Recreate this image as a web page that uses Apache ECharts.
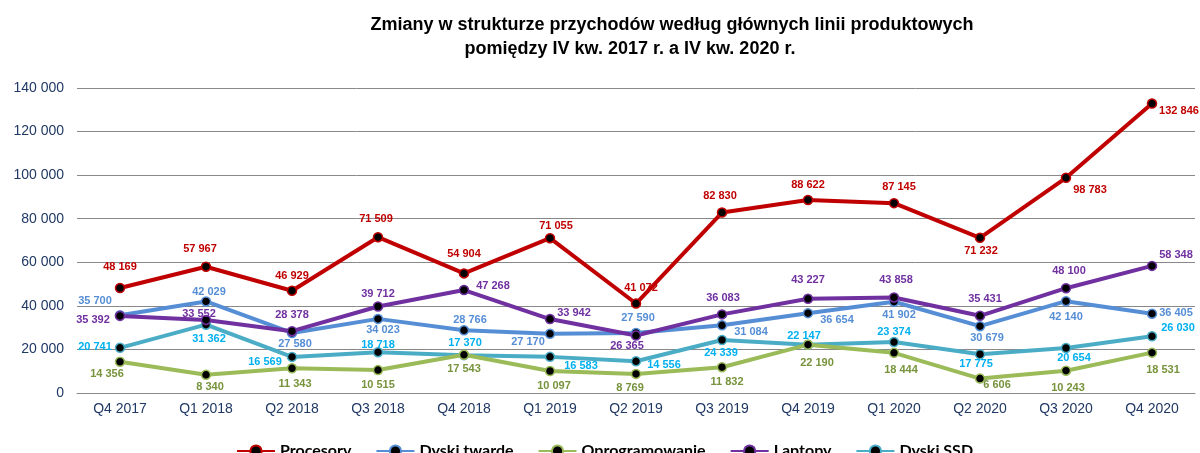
<!DOCTYPE html>
<html>
<head>
<meta charset="utf-8">
<script src="https://cdn.jsdelivr.net/npm/echarts@6/dist/echarts.min.js"></script>
<style>
  html, body { margin: 0; padding: 0; background: #fff; }
  #chart { width: 1200px; height: 453px; }
</style>
</head>
<body>
<div id="chart"></div>
<script>
var categories = ['Q4 2017', 'Q1 2018', 'Q2 2018', 'Q3 2018', 'Q4 2018', 'Q1 2019', 'Q2 2019',
    'Q3 2019', 'Q4 2019', 'Q1 2020', 'Q2 2020', 'Q3 2020', 'Q4 2020'];

var procesory = [48169, 57967, 46929, 71509, 54904, 71055, 41072, 82830, 88622, 87145, 71232, 98783, 132846];
var dyskiTwarde = [35700, 42029, 27580, 34023, 28766, 27170, 27590, 31084, 36654, 41902, 30679, 42140, 36405];
var oprogramowanie = [14356, 8340, 11343, 10515, 17543, 10097, 8769, 11832, 22190, 18444, 6606, 10243, 18531];
var laptopy = [35392, 33552, 28378, 39712, 47268, 33942, 26365, 36083, 43227, 43858, 35431, 48100, 58348];
var dyskiSSD = [20741, 31362, 16569, 18718, 17370, 16583, 14556, 24339, 22147, 23374, 17775, 20654, 26030];

var yTicks = [0, 20000, 40000, 60000, 80000, 100000, 120000, 140000];

// przesuniecia etykiet danych [dx, dy] wzgledem punktu
var offProc = [[0, -21], [-6, -18], [0, -15], [-2, -18], [0, -19], [6, -12], [5, -16],
    [-2, -17], [0, -15], [5, -16], [1, 13], [24, 12], [27, 7]];
var offDT = [[-25, -14], [3, -9], [3, 11], [5, 11], [6, -10], [-22, 8], [2, -15],
    [29, 7], [29, 7], [5, 13], [7, 12], [0, 16], [24, -1]];
var offOpr = [[-13, 12], [4, 12], [3, 16], [0, 15], [0, 14], [4, 15], [-6, 14],
    [5, 15], [9, 18], [7, 17], [17, 6], [2, 17], [11, 17]];
var offLap = [[-27, 4], [-7, -6], [0, -16], [0, -13], [29, -4], [24, -6], [-9, 10],
    [1, -16], [0, -19], [2, -17], [5, -17], [3, -17], [24, -11]];
var offSSD = [[-25, -1], [3, 14], [-27, 5], [0, -7], [1, -12], [31, 9], [28, 4],
    [-1, 13], [-4, -9], [0, -10], [-4, 10], [8, 10], [26, -8]];

function fmt(v) {
    return String(v).replace(/\B(?=(\d{3})+(?!\d))/g, ' ');
}

function makeSeries(name, values, offsets, lineColor, labelColor) {
    return {
        name: name,
        type: 'line',
        symbol: 'circle',
        symbolSize: 9,
        itemStyle: { color: '#000', borderColor: lineColor, borderWidth: 1.5 },
        lineStyle: { color: lineColor, width: 4 },
        emphasis: { disabled: true },
        data: values.map(function(v, i) {
            return {
                value: v,
                label: { offset: offsets[i] }
            };
        }),
        label: {
            show: true,
            position: 'inside',
            color: labelColor,
            fontFamily: 'Liberation Sans, Arial',
            fontWeight: 'bold',
            fontSize: 11,
            formatter: function(p) { return fmt(p.value); }
        }
    };
}

var chart = echarts.init(document.getElementById('chart'));

chart.setOption({
    animation: false,
    graphic: [
        {
            type: 'text',
            style: {
                x: 672, y: 25, text: 'Zmiany w strukturze przychodów według głównych linii produktowych',
                font: 'bold 18px "Liberation Sans", Arial', fill: '#000', align: 'center', verticalAlign: 'middle'
            }
        },
        {
            type: 'text',
            style: {
                x: 630, y: 49, text: 'pomiędzy IV kw. 2017 r. a IV kw. 2020 r.',
                font: 'bold 18px "Liberation Sans", Arial', fill: '#000', align: 'center', verticalAlign: 'middle'
            }
        }
    ],
    legend: {
        left: 231,
        top: 438,
        itemWidth: 38,
        itemHeight: 14,
        itemGap: 24,
        textStyle: { fontFamily: 'Lato', fontWeight: 'bold', fontSize: 16, color: '#000' },
        data: ['Procesory', 'Dyski twarde', 'Oprogramowanie', 'Laptopy', 'Dyski SSD']
    },
    grid: { left: 77, right: 5, top: 88, bottom: 60 },
    xAxis: {
        type: 'category',
        data: categories,
        boundaryGap: true,
        axisLine: { lineStyle: { color: '#888', width: 1 } },
        axisTick: { show: false },
        axisLabel: { color: '#1F3864', fontFamily: 'Liberation Sans, Arial', fontSize: 14, margin: 9 }
    },
    yAxis: {
        type: 'value',
        min: yTicks[0],
        max: yTicks[yTicks.length - 1],
        interval: yTicks[1] - yTicks[0],
        axisLine: { show: false },
        axisTick: { show: false },
        splitLine: { lineStyle: { color: '#888', width: 1 } },
        axisLabel: {
            color: '#1F3864', fontFamily: 'Liberation Sans, Arial', fontSize: 14, margin: 13,
            formatter: function(v) { return fmt(v); }
        }
    },
    series: [
        makeSeries('Dyski SSD', dyskiSSD, offSSD, '#4BACC6', '#00B0F0'),
        makeSeries('Oprogramowanie', oprogramowanie, offOpr, '#9BBB59', '#77933C'),
        makeSeries('Dyski twarde', dyskiTwarde, offDT, '#558ED5', '#558ED5'),
        makeSeries('Laptopy', laptopy, offLap, '#7030A0', '#7030A0'),
        makeSeries('Procesory', procesory, offProc, '#C00000', '#C00000')
    ]
});
</script>
</body>
</html>
